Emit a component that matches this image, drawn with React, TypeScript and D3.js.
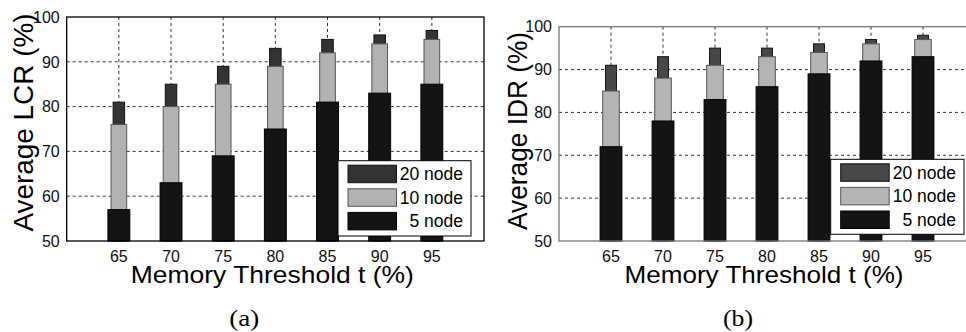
import React from "react";
import * as d3 from "d3";

const thresholds = [65, 70, 75, 80, 85, 90, 95];
const lcr5 = [57, 63, 69, 75, 81, 83, 85];
const lcr10 = [76, 80, 85, 89, 92, 94, 95];
const lcr20 = [81, 85, 89, 93, 95, 96, 97];
const idr5 = [72, 78, 83, 86, 89, 92, 93];
const idr10 = [85, 88, 91, 93, 94, 96, 97];
const idr20 = [91, 93, 95, 95, 96, 97, 98];
const yTicks = [50, 60, 70, 80, 90, 100];
const legendNames = ["20 node", "10 node", "5 node"];

const FONT = "Liberation Sans, Arial, sans-serif";

type Series = { values: number[]; width: number; fill: string; stroke: string };

type PanelProps = {
  x0: number;
  x1: number;
  y0: number;
  y1: number;
  series: Series[]; // back to front
  yLabel: string;
  yLabelX: number;
  yLabelY: number;
  yLabelLen: number;
  yLabelSize: number;
  xLabelLen: number;
  caption: string;
  legend: { x: number; y: number; w: number; h: number };
  frame: string;
};

const Panel = (p: PanelProps) => {
  const x = d3.scaleLinear().domain([60, 100]).range([p.x0, p.x1]);
  const y = d3.scaleLinear().domain([50, 100]).range([p.y1, p.y0]);
  const cx = (p.x0 + p.x1) / 2;
  const legendSeries = [p.series[0], p.series[1], p.series[2]];

  return (
    <g>
      {/* grid */}
      {yTicks.slice(1, -1).map((t) => (
        <line
          key={"gy" + t}
          x1={p.x0}
          x2={p.x1}
          y1={y(t)}
          y2={y(t)}
          stroke="#000"
          strokeWidth={0.8}
          strokeDasharray="3,3"
        />
      ))}
      {thresholds.map((t) => (
        <line
          key={"gx" + t}
          x1={x(t)}
          x2={x(t)}
          y1={p.y0}
          y2={p.y1}
          stroke="#000"
          strokeWidth={0.8}
          strokeDasharray="3,3"
        />
      ))}

      {/* overlapping bars, narrow ones behind */}
      {p.series.map((s, si) =>
        s.values.map((v, i) => {
          const w = x(60 + s.width) - x(60);
          return (
            <rect
              key={si + "-" + i}
              x={x(thresholds[i]) - w / 2}
              y={y(v)}
              width={w}
              height={y(50) - y(v)}
              fill={s.fill}
              stroke={s.stroke}
              strokeWidth={1}
            />
          );
        })
      )}

      {/* frame */}
      <rect
        x={p.x0}
        y={p.y0}
        width={p.x1 - p.x0}
        height={p.y1 - p.y0}
        fill="none"
        stroke={p.frame}
        strokeWidth={1.3}
      />

      {/* ticks */}
      {yTicks.map((t) => (
        <text
          key={"ty" + t}
          x={p.x0 - 7}
          y={y(t)}
          dy="0.36em"
          textAnchor="end"
          fontFamily={FONT}
          fontSize={16}
          fill="#111"
        >
          {t}
        </text>
      ))}
      {thresholds.map((t) => (
        <text
          key={"tx" + t}
          x={x(t)}
          y={261.5}
          textAnchor="middle"
          fontFamily={FONT}
          fontSize={16}
          fill="#111"
        >
          {t}
        </text>
      ))}

      {/* axis labels */}
      <text
        x={cx - 3}
        y={282.5}
        textAnchor="middle"
        fontFamily={FONT}
        fontSize={24.5}
        textLength={p.xLabelLen}
        lengthAdjust="spacingAndGlyphs"
        fill="#000"
      >
        Memory Threshold t (%)
      </text>
      <text
        transform={`translate(${p.yLabelX},${p.yLabelY}) rotate(-90)`}
        textAnchor="middle"
        fontFamily={FONT}
        fontSize={p.yLabelSize}
        textLength={p.yLabelLen}
        lengthAdjust="spacingAndGlyphs"
        fill="#000"
      >
        {p.yLabel}
      </text>

      {/* legend */}
      <rect
        x={p.legend.x}
        y={p.legend.y}
        width={p.legend.w}
        height={p.legend.h}
        fill="#fff"
        stroke="#000"
        strokeWidth={1}
      />
      {legendSeries.map((s, i) => {
        const ry = p.legend.y + 4.5 + i * 23.6;
        return (
          <g key={"lg" + i}>
            <rect
              x={p.legend.x + 10}
              y={ry}
              width={48.5}
              height={17.5}
              fill={s.fill}
              stroke={s.stroke}
              strokeWidth={1}
            />
            <text
              x={p.legend.x + p.legend.w - 8}
              y={ry + 15}
              textAnchor="end"
              fontFamily={FONT}
              fontSize={17.5}
              fill="#000"
            >
              {legendNames[i]}
            </text>
          </g>
        );
      })}

      {/* caption */}
      <text
        x={cx + (p.caption === "(a)" ? -31 : -29)}
        y={325.5}
        textAnchor="middle"
        fontFamily="Liberation Serif, Times New Roman, serif"
        fontSize={24}
        textLength={30}
        lengthAdjust="spacingAndGlyphs"
        fill="#000"
      >
        {p.caption}
      </text>
    </g>
  );
};

export default function App() {
  const lcrSeries: Series[] = [
    { values: lcr20, width: 1.1, fill: "#333333", stroke: "#111" },
    { values: lcr10, width: 1.5, fill: "#b2b2b2", stroke: "#555" },
    { values: lcr5, width: 2.1, fill: "#141414", stroke: "#000" },
  ];
  const idrSeries: Series[] = [
    { values: idr20, width: 1.05, fill: "#474747", stroke: "#111" },
    { values: idr10, width: 1.6, fill: "#b4b4b4", stroke: "#555" },
    { values: idr5, width: 2.1, fill: "#141414", stroke: "#000" },
  ];

  return (
    <svg
      width={966}
      height={332}
      style={{ position: "absolute", left: 0, top: 0, background: "#fff" }}
    >
      <Panel
        x0={66.7}
        x1={484}
        y0={17}
        y1={241}
        series={lcrSeries}
        yLabel="Average LCR (%)"
        yLabelX={33.3}
        yLabelY={122.5}
        yLabelLen={218}
        yLabelSize={28}
        xLabelLen={283}
        caption="(a)"
        legend={{ x: 338, y: 160.7, w: 133, h: 75.3 }}
        frame="#000"
      />
      <Panel
        x0={559}
        x1={975}
        y0={26.7}
        y1={241}
        series={idrSeries}
        yLabel="Average IDR (%)"
        yLabelX={527}
        yLabelY={131}
        yLabelLen={198}
        yLabelSize={27}
        xLabelLen={279}
        caption="(b)"
        legend={{ x: 830.7, y: 159.3, w: 133.3, h: 75 }}
        frame="#777"
      />
    </svg>
  );
}
